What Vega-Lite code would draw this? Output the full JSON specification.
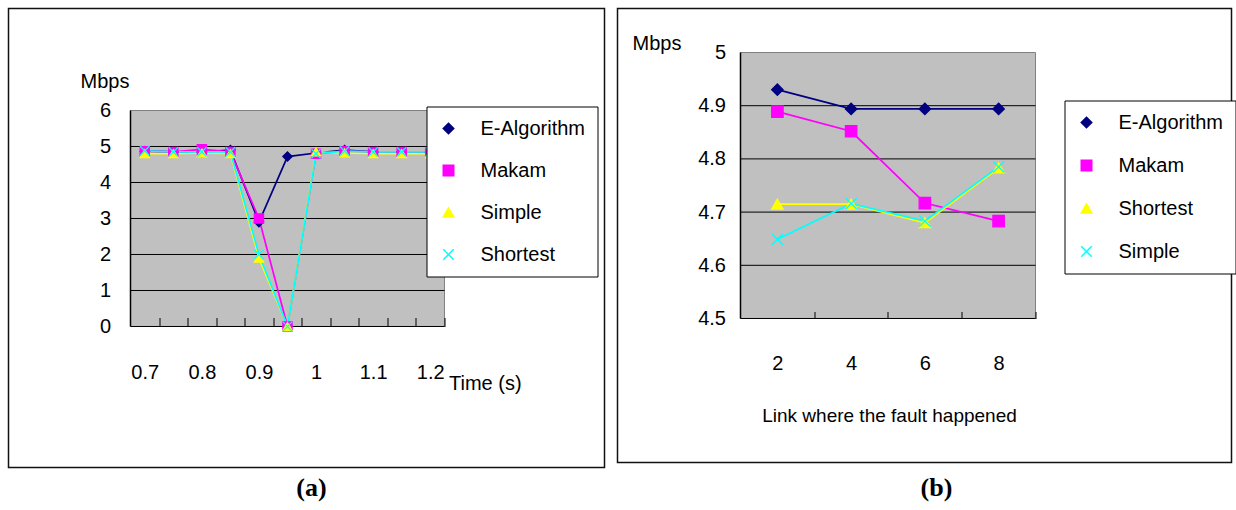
{
  "$schema": "https://vega.github.io/schema/vega-lite/v6.json",
  "background": "white",
  "padding": {"left": 7.5, "top": 7.5, "right": 4, "bottom": 4},
  "spacing": 11,
  "config": {
    "font": "Liberation Sans",
    "view": {"stroke": "#111111", "strokeWidth": 1.5, "fill": "white"},
    "axis": {"grid": false, "domain": false, "ticks": false, "labelFont": "Liberation Sans", "labelFontSize": 20, "labelColor": "black", "titleFont": "Liberation Sans", "titleFontSize": 20, "titleFontWeight": "normal", "titleColor": "black", "labelOverlap": false, "labelFlush": false}
  },
  "datasets": {
    "a": [
      {"t": 0.7, "series": "E-Algorithm", "v": 4.87}, {"t": 0.75, "series": "E-Algorithm", "v": 4.85}, {"t": 0.8, "series": "E-Algorithm", "v": 4.85}, {"t": 0.85, "series": "E-Algorithm", "v": 4.9}, {"t": 0.9, "series": "E-Algorithm", "v": 2.9}, {"t": 0.95, "series": "E-Algorithm", "v": 4.72}, {"t": 1.0, "series": "E-Algorithm", "v": 4.82}, {"t": 1.05, "series": "E-Algorithm", "v": 4.9}, {"t": 1.1, "series": "E-Algorithm", "v": 4.85}, {"t": 1.15, "series": "E-Algorithm", "v": 4.85}, {"t": 1.2, "series": "E-Algorithm", "v": 4.85},
      {"t": 0.7, "series": "Makam", "v": 4.87}, {"t": 0.75, "series": "Makam", "v": 4.85}, {"t": 0.8, "series": "Makam", "v": 4.92}, {"t": 0.85, "series": "Makam", "v": 4.85}, {"t": 0.9, "series": "Makam", "v": 3.0}, {"t": 0.95, "series": "Makam", "v": 0}, {"t": 1.0, "series": "Makam", "v": 4.8}, {"t": 1.05, "series": "Makam", "v": 4.87}, {"t": 1.1, "series": "Makam", "v": 4.85}, {"t": 1.15, "series": "Makam", "v": 4.85}, {"t": 1.2, "series": "Makam", "v": 4.85},
      {"t": 0.7, "series": "Simple", "v": 4.8}, {"t": 0.75, "series": "Simple", "v": 4.8}, {"t": 0.8, "series": "Simple", "v": 4.82}, {"t": 0.85, "series": "Simple", "v": 4.8}, {"t": 0.9, "series": "Simple", "v": 1.9}, {"t": 0.95, "series": "Simple", "v": 0}, {"t": 1.0, "series": "Simple", "v": 4.85}, {"t": 1.05, "series": "Simple", "v": 4.82}, {"t": 1.1, "series": "Simple", "v": 4.8}, {"t": 1.15, "series": "Simple", "v": 4.8}, {"t": 1.2, "series": "Simple", "v": 4.8},
      {"t": 0.7, "series": "Shortest", "v": 4.88}, {"t": 0.75, "series": "Shortest", "v": 4.85}, {"t": 0.8, "series": "Shortest", "v": 4.85}, {"t": 0.85, "series": "Shortest", "v": 4.85}, {"t": 0.9, "series": "Shortest", "v": 2.0}, {"t": 0.95, "series": "Shortest", "v": 0}, {"t": 1.0, "series": "Shortest", "v": 4.8}, {"t": 1.05, "series": "Shortest", "v": 4.87}, {"t": 1.1, "series": "Shortest", "v": 4.85}, {"t": 1.15, "series": "Shortest", "v": 4.85}, {"t": 1.2, "series": "Shortest", "v": 4.85}
    ],
    "b": [
      {"link": 2, "series": "E-Algorithm", "v": 4.93}, {"link": 4, "series": "E-Algorithm", "v": 4.894}, {"link": 6, "series": "E-Algorithm", "v": 4.894}, {"link": 8, "series": "E-Algorithm", "v": 4.894},
      {"link": 2, "series": "Makam", "v": 4.889}, {"link": 4, "series": "Makam", "v": 4.852}, {"link": 6, "series": "Makam", "v": 4.717}, {"link": 8, "series": "Makam", "v": 4.683},
      {"link": 2, "series": "Shortest", "v": 4.715}, {"link": 4, "series": "Shortest", "v": 4.715}, {"link": 6, "series": "Shortest", "v": 4.68}, {"link": 8, "series": "Shortest", "v": 4.783},
      {"link": 2, "series": "Simple", "v": 4.649}, {"link": 4, "series": "Simple", "v": 4.716}, {"link": 6, "series": "Simple", "v": 4.683}, {"link": 8, "series": "Simple", "v": 4.785}
    ],
    "gridA": [{"g": 0}, {"g": 1}, {"g": 2}, {"g": 3}, {"g": 4}, {"g": 5}],
    "gridB": [{"g": 4.5}, {"g": 4.6}, {"g": 4.7}, {"g": 4.8}, {"g": 4.9}]
  },
  "resolve": {"scale": {"x": "independent", "y": "independent", "color": "independent", "shape": "independent", "stroke": "independent"}, "legend": {"color": "independent"}},
  "hconcat": [
    {
      "width": 596,
      "height": 459,
      "title": {"text": "(a)", "orient": "bottom", "font": "Liberation Serif", "fontSize": 26, "fontWeight": "bold", "color": "black", "baseline": "middle", "offset": 20, "dx": 5},
      "resolve": {"axis": {"x": "independent", "y": "independent"}},
      "layer": [
        {
          "data": {"values": [{}]},
          "mark": {"type": "rect", "fill": "#C0C0C0", "stroke": "#808080", "strokeWidth": 1},
          "encoding": {
            "x": {"datum": 0.675, "type": "quantitative", "scale": {"domain": [0.4613, 1.5053], "nice": false, "zero": false}, "axis": {"orient": "top", "offset": -318, "zindex": 1, "values": [0.725, 0.775, 0.825, 0.875, 0.925, 0.975, 1.025, 1.075, 1.125, 1.175, 1.225], "ticks": true, "tickSize": 9, "tickColor": "black", "tickWidth": 1, "labels": false, "title": null}},
            "x2": {"datum": 1.225},
            "y": {"datum": 0, "type": "quantitative", "scale": {"domain": [-3.9167, 8.8333], "nice": false, "zero": false}, "axis": null},
            "y2": {"datum": 6}
          }
        },
        {
          "data": {"name": "gridA"},
          "mark": {"type": "rule", "color": "black", "strokeWidth": 1},
          "encoding": {
            "y": {"field": "g", "type": "quantitative", "scale": {"domain": [-3.9167, 8.8333], "nice": false, "zero": false}, "axis": null},
            "x": {"datum": 0.675, "type": "quantitative", "scale": {"domain": [0.4613, 1.5053], "nice": false, "zero": false}, "axis": null},
            "x2": {"datum": 1.225}
          }
        },
        {
          "data": {"values": [{}]},
          "mark": {"type": "rule", "color": "black", "strokeWidth": 1.5},
          "encoding": {
            "x": {"datum": 0.675, "type": "quantitative", "scale": {"domain": [0.4613, 1.5053], "nice": false, "zero": false}, "axis": null},
            "y": {"datum": 0, "type": "quantitative", "scale": {"domain": [-3.9167, 8.8333], "nice": false, "zero": false}, "axis": null},
            "y2": {"datum": 6}
          }
        },
        {
          "data": {"name": "a"},
          "mark": {"type": "line", "strokeWidth": 1.7},
          "encoding": {
            "x": {"field": "t", "type": "quantitative", "scale": {"domain": [0.4613, 1.5053], "nice": false, "zero": false}, "axis": {"orient": "bottom", "offset": -141, "values": [0.7, 0.8, 0.9, 1, 1.1, 1.2], "format": "~g", "labelBaseline": "middle", "labelPadding": 46, "title": "Time (s)", "titleX": 440, "titleY": 57, "titleAlign": "left", "titleBaseline": "middle", "titleAnchor": null}},
            "y": {"field": "v", "type": "quantitative", "scale": {"domain": [-3.9167, 8.8333], "nice": false, "zero": false}, "axis": {"orient": "left", "offset": -122, "values": [0, 1, 2, 3, 4, 5, 6], "format": "~g", "labelPadding": 20, "title": "Mbps", "titleAngle": 0, "titleX": -26, "titleY": 73, "titleAlign": "center", "titleBaseline": "middle"}},
            "color": {"field": "series", "type": "nominal", "scale": {"domain": ["E-Algorithm", "Makam", "Simple", "Shortest"], "range": ["#000080", "#FF00FF", "#FFFF00", "#00FFFF"]},
              "legend": {"orient": "none", "legendX": 418, "legendY": 98, "title": null, "padding": 12, "rowPadding": 22, "symbolSize": 110, "symbolStrokeWidth": 1.5, "symbolOpacity": 1, "labelOffset": 22, "labelFont": "Liberation Sans", "labelFontSize": 20, "labelColor": "black", "strokeColor": "black", "fillColor": "white"}
            }
          }
        },
        {
          "data": {"name": "a"},
          "mark": {"type": "point", "filled": true, "size": 85, "strokeWidth": 1.3, "opacity": 1},
          "encoding": {
            "x": {"field": "t", "type": "quantitative", "scale": {"domain": [0.4613, 1.5053], "nice": false, "zero": false}, "axis": null},
            "y": {"field": "v", "type": "quantitative", "scale": {"domain": [-3.9167, 8.8333], "nice": false, "zero": false}, "axis": null},
            "color": {"field": "series", "type": "nominal", "scale": {"domain": ["E-Algorithm", "Makam", "Simple", "Shortest"], "range": ["#000080", "#FF00FF", "#FFFF00", "#00FFFF"]}},
            "stroke": {"field": "series", "type": "nominal", "scale": {"domain": ["E-Algorithm", "Makam", "Simple", "Shortest"], "range": ["#000080", "#FF00FF", "#FFFF00", "#00FFFF"]}, "legend": null},
            "shape": {"field": "series", "type": "nominal", "scale": {"domain": ["E-Algorithm", "Makam", "Simple", "Shortest"], "range": ["diamond", "square", "triangle-up", "M-1,-1L1,1M-1,1L1,-1"]}, "legend": null}
          }
        }
      ]
    },
    {
      "width": 614,
      "height": 454,
      "title": {"text": "(b)", "orient": "bottom", "font": "Liberation Serif", "fontSize": 26, "fontWeight": "bold", "color": "black", "baseline": "middle", "offset": 25, "dx": 12},
      "resolve": {"axis": {"x": "independent", "y": "independent"}},
      "layer": [
        {
          "data": {"values": [{}]},
          "mark": {"type": "rect", "fill": "#C0C0C0", "stroke": "#808080", "strokeWidth": 1},
          "encoding": {
            "x": {"datum": 1, "type": "quantitative", "scale": {"domain": [-2.3356, 14.3153], "nice": false, "zero": false}, "axis": {"orient": "top", "offset": -310, "zindex": 1, "values": [3, 5, 7, 9], "ticks": true, "tickSize": 7, "tickColor": "black", "tickWidth": 1, "labels": false, "title": null}},
            "x2": {"datum": 9},
            "y": {"datum": 4.5, "type": "quantitative", "scale": {"domain": [4.22932, 5.08271], "nice": false, "zero": false}, "axis": null},
            "y2": {"datum": 5}
          }
        },
        {
          "data": {"name": "gridB"},
          "mark": {"type": "rule", "color": "black", "strokeWidth": 1},
          "encoding": {
            "y": {"field": "g", "type": "quantitative", "scale": {"domain": [4.22932, 5.08271], "nice": false, "zero": false}, "axis": null},
            "x": {"datum": 1, "type": "quantitative", "scale": {"domain": [-2.3356, 14.3153], "nice": false, "zero": false}, "axis": null},
            "x2": {"datum": 9}
          }
        },
        {
          "data": {"values": [{}]},
          "mark": {"type": "rule", "color": "black", "strokeWidth": 1.5},
          "encoding": {
            "x": {"datum": 1, "type": "quantitative", "scale": {"domain": [-2.3356, 14.3153], "nice": false, "zero": false}, "axis": null},
            "y": {"datum": 4.5, "type": "quantitative", "scale": {"domain": [4.22932, 5.08271], "nice": false, "zero": false}, "axis": null},
            "y2": {"datum": 5}
          }
        },
        {
          "data": {"name": "b"},
          "mark": {"type": "line", "strokeWidth": 1.8},
          "encoding": {
            "x": {"field": "link", "type": "quantitative", "scale": {"domain": [-2.3356, 14.3153], "nice": false, "zero": false}, "axis": {"orient": "bottom", "offset": -144, "values": [2, 4, 6, 8], "format": "~g", "labelBaseline": "middle", "labelPadding": 45, "title": "Link where the fault happened", "titleFontSize": 19, "titleX": 271.5, "titleY": 97, "titleAlign": "center", "titleBaseline": "middle", "titleAnchor": null}},
            "y": {"field": "v", "type": "quantitative", "scale": {"domain": [4.22932, 5.08271], "nice": false, "zero": false}, "axis": {"orient": "left", "offset": -123, "values": [4.5, 4.6, 4.7, 4.8, 4.9, 5], "format": "~g", "labelPadding": 15, "title": "Mbps", "titleAngle": 0, "titleX": -84, "titleY": 35, "titleAlign": "center", "titleBaseline": "middle"}},
            "color": {"field": "series", "type": "nominal", "scale": {"domain": ["E-Algorithm", "Makam", "Shortest", "Simple"], "range": ["#000080", "#FF00FF", "#FFFF00", "#00FFFF"]},
              "legend": {"orient": "none", "legendX": 447, "legendY": 92, "title": null, "padding": 12, "rowPadding": 23, "symbolSize": 110, "symbolStrokeWidth": 1.5, "symbolOpacity": 1, "labelOffset": 22, "labelFont": "Liberation Sans", "labelFontSize": 20, "labelColor": "black", "strokeColor": "black", "fillColor": "white"}
            }
          }
        },
        {
          "data": {"name": "b"},
          "mark": {"type": "point", "filled": true, "size": 130, "strokeWidth": 1.3, "opacity": 1},
          "encoding": {
            "x": {"field": "link", "type": "quantitative", "scale": {"domain": [-2.3356, 14.3153], "nice": false, "zero": false}, "axis": null},
            "y": {"field": "v", "type": "quantitative", "scale": {"domain": [4.22932, 5.08271], "nice": false, "zero": false}, "axis": null},
            "color": {"field": "series", "type": "nominal", "scale": {"domain": ["E-Algorithm", "Makam", "Shortest", "Simple"], "range": ["#000080", "#FF00FF", "#FFFF00", "#00FFFF"]}},
            "stroke": {"field": "series", "type": "nominal", "scale": {"domain": ["E-Algorithm", "Makam", "Shortest", "Simple"], "range": ["#000080", "#FF00FF", "#FFFF00", "#00FFFF"]}, "legend": null},
            "shape": {"field": "series", "type": "nominal", "scale": {"domain": ["E-Algorithm", "Makam", "Shortest", "Simple"], "range": ["diamond", "square", "triangle-up", "M-1,-1L1,1M-1,1L1,-1"]}, "legend": null}
          }
        }
      ]
    }
  ]
}
